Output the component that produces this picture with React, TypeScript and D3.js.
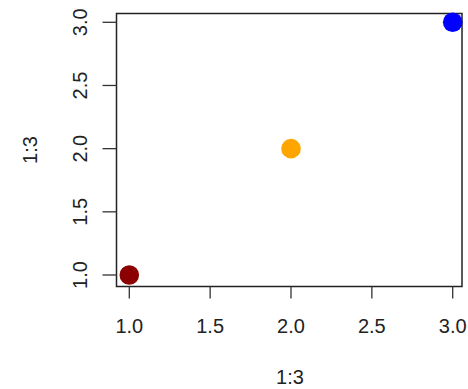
import React from "react";
import * as d3 from "d3";

const xValues = [1, 2, 3];
const yValues = [1, 2, 3];
const pointColors = ["#8B0000", "#FFA500", "#0000FF"];
const xTicks = [1.0, 1.5, 2.0, 2.5, 3.0];
const yTicks = [1.0, 1.5, 2.0, 2.5, 3.0];
const xLabel = "1:3";
const yLabel = "1:3";

export default function App() {
  const W = 468, H = 389;
  const box = { left: 116.5, right: 462, top: 13.5, bottom: 286.5 };
  const x = d3.scaleLinear().domain([1, 3]).range([129.3, 452.7]);
  const y = d3.scaleLinear().domain([1, 3]).range([275, 22.3]);
  const fmt = d3.format(".1f");
  const font = "Liberation Sans, Arial, sans-serif";
  const fs = 20;
  const col = "#222";
  return (
    <svg width={W} height={H} style={{ position: "absolute", left: 0, top: 0, background: "#fff" }}>
      <rect x={box.left} y={box.top} width={box.right - box.left} height={box.bottom - box.top}
        fill="none" stroke="#222" strokeWidth={1.5} />
      {xTicks.map((t) => (
        <g key={"x" + t}>
          <line x1={x(t)} x2={x(t)} y1={box.bottom} y2={box.bottom + 12} stroke="#333" strokeWidth={1.3} />
          <text x={x(t)} y={333} textAnchor="middle" fontFamily={font} fontSize={fs} fill={col}>{fmt(t)}</text>
        </g>
      ))}
      {yTicks.map((t) => (
        <g key={"y" + t}>
          <line x1={box.left} x2={box.left - 14} y1={y(t)} y2={y(t)} stroke="#333" strokeWidth={1.3} />
          <text transform={`translate(87,${y(t)}) rotate(-90)`} textAnchor="middle" fontFamily={font} fontSize={fs} fill={col}>{fmt(t)}</text>
        </g>
      ))}
      <text x={290} y={384} textAnchor="middle" fontFamily={font} fontSize={fs} fill={col}>{xLabel}</text>
      <text transform={`translate(37,150) rotate(-90)`} textAnchor="middle" fontFamily={font} fontSize={fs} fill={col}>{yLabel}</text>
      {xValues.map((v, i) => (
        <circle key={i} cx={x(v)} cy={y(yValues[i])} r={9.8} fill={pointColors[i]} />
      ))}
    </svg>
  );
}
